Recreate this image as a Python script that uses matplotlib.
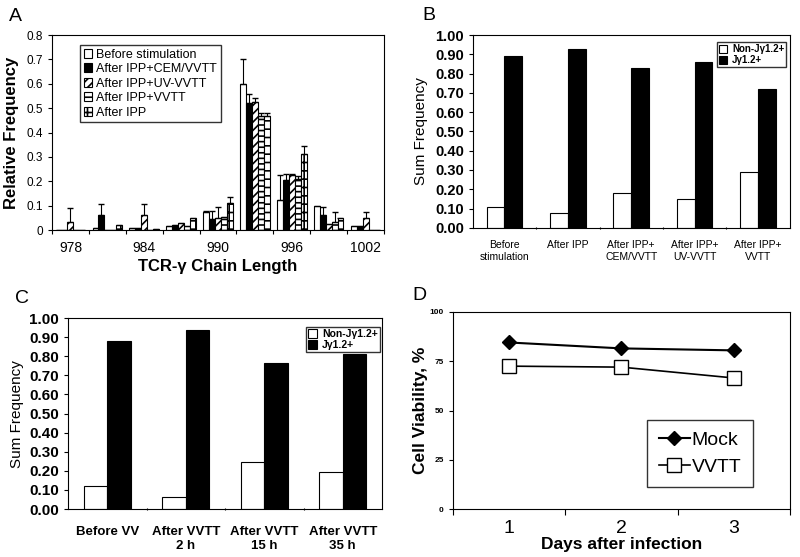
import numpy as np
import matplotlib
matplotlib.use("Agg")
import matplotlib.pyplot as plt
from matplotlib.patches import Patch

plt.rcParams['font.family'] = ['Liberation Sans', 'DejaVu Sans']
plt.rcParams['hatch.linewidth'] = 1.2

# ---- panel A data ----
chain_len = [978, 981, 984, 987, 990, 993, 996, 999, 1002]
a_labels = ["Before stimulation", "After IPP+CEM/VVTT", "After IPP+UV-VVTT",
            "After IPP+VVTT", "After IPP"]
a_before = [0.0, 0.01, 0.01, 0.015, 0.075, 0.60, 0.125, 0.10, 0.015]
a_cem = [0.0, 0.06, 0.01, 0.02, 0.045, 0.52, 0.205, 0.06, 0.015]
a_uv = [0.034, 0.0, 0.06, 0.03, 0.05, 0.525, 0.225, 0.025, 0.05]
a_vvtt = [0.0, 0.0, 0.0, 0.015, 0.055, 0.47, 0.21, 0.035, 0.0]
a_ipp = [0.0, 0.02, 0.005, 0.05, 0.11, 0.47, 0.31, 0.05, 0.0]
nan = np.nan
a_before_err = [nan, nan, nan, nan, 0.005, 0.10, 0.10, nan, nan]
a_cem_err = [nan, 0.045, nan, nan, 0.035, 0.04, 0.025, 0.035, nan]
a_uv_err = [0.055, nan, 0.045, nan, 0.045, 0.015, 0.005, nan, 0.025]
a_vvtt_err = [nan, nan, nan, nan, nan, 0.01, 0.01, 0.04, nan]
a_ipp_err = [nan, nan, nan, nan, 0.025, 0.01, 0.035, nan, nan]

# ---- panel B data ----
b_cats = ["Before\nstimulation", "After IPP", "After IPP+\nCEM/VVTT",
          "After IPP+\nUV-VVTT", "After IPP+\nVVTT"]
b_non = [0.11, 0.075, 0.18, 0.15, 0.29]
b_j = [0.89, 0.93, 0.83, 0.86, 0.72]

# ---- panel C data ----
c_cats = ["Before VV", "After VVTT\n2 h", "After VVTT\n15 h", "After VVTT\n35 h"]
c_non = [0.12, 0.065, 0.245, 0.195]
c_j = [0.88, 0.94, 0.765, 0.81]

# ---- panel D data ----
days = [1, 2, 3]
mock = [84.5, 81.5, 80.5]
vvtt = [72.5, 72, 66.5]

fig = plt.figure(figsize=(8, 5.57), dpi=100)

# ================= A =================
axA = fig.add_axes([0.065, 0.587, 0.415, 0.35])
x = np.arange(len(chain_len))
w = 0.16
series = [a_before, a_cem, a_uv, a_vvtt, a_ipp]
errs = [a_before_err, a_cem_err, a_uv_err, a_vvtt_err, a_ipp_err]
faces = ['white', 'black', 'white', 'white', 'white']
hatches = [None, None, '////', '---', '++']
for i in range(5):
    xs = x + (i - 2) * w
    axA.bar(xs, series[i], w, color=faces[i], edgecolor='black', hatch=hatches[i],
            linewidth=0.8)
    e = np.array(errs[i])
    axA.errorbar(xs, series[i], yerr=[np.zeros_like(e), e], fmt='none',
                 ecolor='black', elinewidth=0.8, capsize=2)
axA.set_xlim(-0.5, len(chain_len) - 0.5)
axA.set_ylim(0, 0.8)
axA.set_yticks(np.arange(0, 0.81, 0.1))
axA.set_yticklabels(["0"] + ["%.1f" % v for v in np.arange(0.1, 0.81, 0.1)])
axA.set_xticks(np.arange(-0.5, len(chain_len), 1))
axA.set_xticklabels([])
axA.set_xticks(x[::2], minor=True)
axA.set_xticklabels([str(c) for c in chain_len[::2]], minor=True)
axA.tick_params(axis='x', which='minor', length=0, labelsize=10, pad=8)
axA.tick_params(axis='x', which='major', length=3)
axA.tick_params(axis='y', labelsize=8.5, length=3)
axA.set_ylabel("Relative Frequency", fontsize=12, fontweight='bold')
axA.yaxis.set_label_coords(-0.1, 0.5)
axA.set_xlabel("TCR-γ Chain Length", fontsize=12, fontweight='bold', labelpad=3)
handles = [Patch(facecolor=faces[i], edgecolor='black', hatch=hatches[i], linewidth=0.8)
           for i in range(5)]
legA = axA.legend(handles, a_labels, loc='upper left', bbox_to_anchor=(0.084, 0.95),
                  borderaxespad=0, fontsize=9, frameon=True, fancybox=False,
                  handlelength=0.7, handleheight=0.7, handletextpad=0.3,
                  labelspacing=0.2, borderpad=0.3)
legA.get_frame().set_edgecolor('black')
legA.get_frame().set_linewidth(1)
axA.text(-0.13, 1.07, "A", transform=axA.transAxes, fontsize=14)


def sum_panel(ax, cats, non, jj, bw, tick_size, tick_weight, xlab_size, xlab_weight,
              pad, leg_anchor, leg_size):
    xx = np.arange(len(cats))
    ax.bar(xx - bw / 2, non, bw, color='white', edgecolor='black', linewidth=0.8,
           label="Non-Jγ1.2+")
    ax.bar(xx + bw / 2, jj, bw, color='black', edgecolor='black', linewidth=0.8,
           label="Jγ1.2+")
    ax.set_xlim(-0.5, len(cats) - 0.5)
    ax.set_ylim(0, 1.0)
    ax.set_yticks(np.arange(0, 1.01, 0.1))
    ax.set_yticklabels(["%.2f" % v for v in np.arange(0, 1.01, 0.1)],
                       fontweight=tick_weight)
    ax.tick_params(axis='y', labelsize=tick_size, length=3)
    ax.set_xticks(np.arange(0.5, len(cats) - 1, 1))
    ax.set_xticklabels([])
    ax.set_xticks(xx, minor=True)
    ax.set_xticklabels(cats, minor=True, fontsize=xlab_size, fontweight=xlab_weight,
                       va='top', linespacing=1.2)
    ax.tick_params(axis='x', which='minor', length=0, pad=pad)
    ax.tick_params(axis='x', which='major', length=2, direction='inout')
    ax.set_ylabel("Sum Frequency", fontsize=11)
    leg = ax.legend(loc='upper right', bbox_to_anchor=leg_anchor, borderaxespad=0,
                    frameon=True, fancybox=False,
                    handlelength=0.9, handleheight=0.9, handletextpad=0.5,
                    labelspacing=0.1, borderpad=0.2, prop={'weight': 'bold',
                                                           'size': leg_size})
    leg.get_frame().set_edgecolor('black')
    leg.get_frame().set_linewidth(1)


# ================= B =================
axB = fig.add_axes([0.591, 0.591, 0.396, 0.346])
sum_panel(axB, b_cats, b_non, b_j, 0.28, 10.5, 'bold', 7.5, 'normal', 9,
          (0.99, 0.964), 7)
axB.yaxis.set_label_coords(-0.14, 0.5)
axB.text(-0.16, 1.08, "B", transform=axB.transAxes, fontsize=14)

# ================= C =================
axC = fig.add_axes([0.085, 0.086, 0.3925, 0.343])
sum_panel(axC, c_cats, c_non, c_j, 0.3, 11, 'bold', 9.5, 'bold', 12,
          (0.994, 0.953), 7.5)
axC.yaxis.set_label_coords(-0.14, 0.5)
axC.text(-0.17, 1.08, "C", transform=axC.transAxes, fontsize=14)

# ================= D =================
axD = fig.add_axes([0.566, 0.086, 0.4215, 0.354])
axD.plot(days, mock, color='black', linewidth=1.5, marker='D', markersize=7.5,
         markerfacecolor='black', markeredgecolor='black', label="Mock")
axD.plot(days, vvtt, color='black', linewidth=1.2, marker='s', markersize=10,
         markerfacecolor='white', markeredgecolor='black', label="VVTT")
axD.set_xlim(0.5, 3.5)
axD.set_ylim(0, 100)
axD.set_yticks([0, 25, 50, 75, 100])
axD.set_yticklabels(["0", "25", "50", "75", "100"], fontweight='bold')
axD.tick_params(axis='y', labelsize=6, length=3)
axD.set_xticks([0.5, 1.5, 2.5, 3.5])
axD.set_xticklabels([])
axD.set_xticks(days, minor=True)
axD.set_xticklabels([str(d) for d in days], minor=True, fontsize=14)
axD.tick_params(axis='x', which='minor', length=0, pad=8)
axD.tick_params(axis='x', which='major', length=4)
axD.set_xlabel("Days after infection", fontsize=12.5, fontweight='bold', labelpad=0)
axD.set_ylabel("Cell Viability, %", fontsize=12.5, fontweight='bold')
axD.yaxis.set_label_coords(-0.075, 0.5)
legD = axD.legend(loc='upper left', bbox_to_anchor=(0.576, 0.452), borderaxespad=0,
                  fontsize=14, frameon=True, fancybox=False, handlelength=1.6,
                  handletextpad=0.1, labelspacing=0.45, borderpad=0.6)
legD.get_frame().set_edgecolor('black')
legD.get_frame().set_linewidth(1)
axD.text(-0.12, 1.06, "D", transform=axD.transAxes, fontsize=14)

fig.savefig("out.png", dpi=100)
